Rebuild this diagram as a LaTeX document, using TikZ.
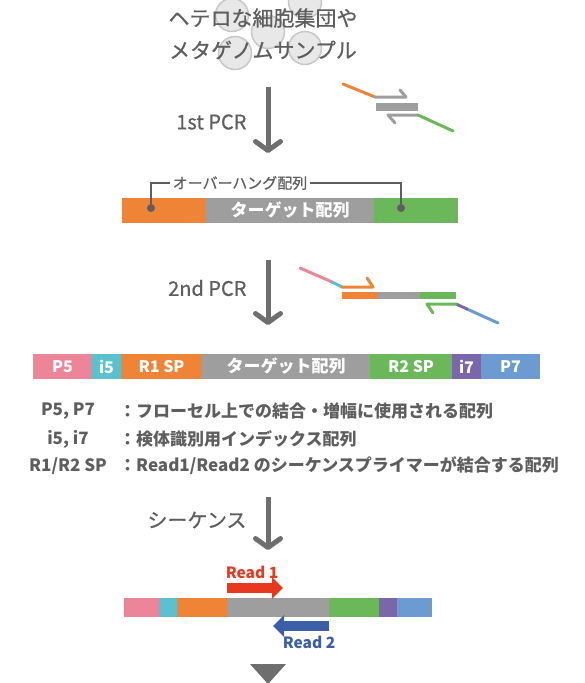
\documentclass[tikz,border=0pt]{standalone}
\usepackage{fontspec}
\setmainfont{Noto Sans CJK JP}
\newfontfamily\medfont[FakeBold=0.7]{Noto Sans CJK JP}
\usepackage{xcolor}
\usepackage{tikz}
\usetikzlibrary{positioning, arrows.meta}

\definecolor{p5col}{HTML}{ED8598}
\definecolor{i5col}{HTML}{5BC1CF}
\definecolor{r1col}{HTML}{F08436}
\definecolor{tgtcol}{HTML}{9D9E9D}
\definecolor{r2col}{HTML}{6BB85A}
\definecolor{i7col}{HTML}{7A66AA}
\definecolor{p7col}{HTML}{6C9BD2}
\definecolor{readred}{HTML}{E8391F}
\definecolor{readblue}{HTML}{3C5EA8}
\definecolor{flowgray}{HTML}{6E6E6E}
\definecolor{txtgray}{HTML}{5E5E5E}

\begin{document}
\begin{tikzpicture}[x=1pt, y=-1pt,
    seg/.style={fill=#1, inner sep=0pt, outer sep=0pt, text=white, font=\bfseries\fontsize{16}{16}\selectfont},
    bigseg/.style={seg=#1, minimum height=25pt},
    smallseg/.style={seg=#1, minimum height=19pt},
    flow/.style={draw=flowgray, line width=5pt, -{Straight Barb[length=9pt, width=25pt, line cap=round, line join=round]}},
    flowlabel/.style={anchor=east, text=txtgray, font=\medfont\fontsize{20}{20}\selectfont},
    primer/.style={draw=#1, line width=3pt, line cap=round, line join=round},
    cell/.style={draw=black!22, fill=black!9, line width=1.5pt},
    keylabel/.style={text=txtgray, font=\bfseries\fontsize{17}{17}\selectfont, inner sep=0pt},
    readarrow/.style={draw=#1, line width=10.5pt, -{Triangle[length=11pt, width=21pt]}}]
    \useasboundingbox (0,0) rectangle (585,683);

    % Cellules + titre
    \foreach \cx/\cy in {232/15, 268/32, 305/2, 235/53, 305/48}
        \draw[cell] (\cx,\cy) circle (16.5);
    \node[text=txtgray, font=\medfont\fontsize{21}{21}\selectfont, align=center] (titre1) at (263,18) {ヘテロな細胞集団や};
    \node[text=txtgray, font=\medfont\fontsize{21}{21}\selectfont, align=center] (titre2) at (263,50) {メタゲノムサンプル};

    % 1st PCR
    \coordinate (f1a) at (268,87);
    \coordinate (f1b) at (268,153);
    \draw[flow] (f1a) -- (f1b);
    \node[flowlabel] (pcr1) at (250,122) {1st PCR};

    \coordinate (a1) at (343,84);
    \coordinate (a2) at (375,97);
    \coordinate (a3) at (406,97);
    \coordinate (a4) at (400,90);
    \coordinate (b1) at (418,115);
    \coordinate (b2) at (388,115);
    \coordinate (b3) at (395,123);
    \coordinate (b4) at (453,131);
    \draw[primer=r1col] (a1) -- (a2);
    \draw[primer=tgtcol] (a2) -- (a3) -- (a4);
    \draw[tgtcol, line width=8pt] (376,107) -- (418,107);
    \draw[primer=tgtcol] (b1) -- (b2) -- (b3);
    \draw[primer=r2col] (b1) -- (b4);

    % Amplicon avec overhang
    \node[bigseg=r1col, minimum width=84pt, anchor=north west] (ov1) at (122,198) {};
    \node[bigseg=tgtcol, minimum width=168pt, right=0pt of ov1, font=\bfseries\fontsize{17}{17}\selectfont] (tg1) {ターゲット配列};
    \node[bigseg=r2col, minimum width=84pt, right=0pt of tg1] (ov2) {};
    \node[fill=txtgray, circle, inner sep=0pt, minimum size=8pt] (d1) at (151,208) {};
    \node[fill=txtgray, circle, inner sep=0pt, minimum size=8pt] (d2) at (401,208) {};
    \node[text=txtgray, font=\medfont\fontsize{15}{15}\selectfont, inner sep=2.5pt] (ovh) at (240,183) {オーバーハング配列};
    \draw[txtgray, line width=1.2pt] (d1) |- (ovh.west);
    \draw[txtgray, line width=1.2pt] (d2) |- (ovh.east);

    % 2nd PCR
    \coordinate (f2a) at (268,260);
    \coordinate (f2b) at (268,325);
    \draw[flow] (f2a) -- (f2b);
    \node[flowlabel] (pcr2) at (250,288) {2nd PCR};

    \coordinate (c1) at (300,268);
    \coordinate (c2) at (332,282);
    \coordinate (c3) at (342,287);
    \coordinate (c4) at (373,287);
    \coordinate (c5) at (367,278);
    \draw[primer=p5col] (c1) -- (c2);
    \draw[primer=i5col] (c2) -- (c3);
    \draw[primer=r1col] (c3) -- (c4) -- (c5);
    \draw[r1col, line width=7pt] (342,295) -- (378,295);
    \draw[tgtcol, line width=7pt] (378,295) -- (420,295);
    \draw[r2col, line width=7pt] (420,295) -- (456,295);
    \coordinate (e1) at (456,304);
    \coordinate (e2) at (427,304);
    \coordinate (e3) at (433,313);
    \coordinate (e4) at (467,309);
    \coordinate (e5) at (498,323);
    \draw[primer=p7col] (e4) -- (e5);
    \draw[primer=i7col] (e1) -- (e4);
    \draw[primer=r2col] (e1) -- (e2) -- (e3);

    % Librairie complete
    \node[bigseg=p5col, minimum width=59pt, anchor=north west] (p5) at (33,354) {P5};
    \node[bigseg=i5col, minimum width=29pt, right=0pt of p5] (i5) {i5};
    \node[bigseg=r1col, minimum width=81pt, right=0pt of i5] (r1) {R1 SP};
    \node[bigseg=tgtcol, minimum width=168pt, right=0pt of r1, font=\bfseries\fontsize{17}{17}\selectfont] (tg2) {ターゲット配列};
    \node[bigseg=r2col, minimum width=82pt, right=0pt of tg2] (r2) {R2 SP};
    \node[bigseg=i7col, minimum width=29pt, right=0pt of r2] (i7) {i7};
    \node[bigseg=p7col, minimum width=59pt, right=0pt of i7] (p7) {P7};

    % Legende
    \node[keylabel] (k1) at (68,411) {P5, P7};
    \node[keylabel] (k2) at (68,439) {i5, i7};
    \node[keylabel] (k3) at (68,466) {R1/R2 SP};
    \node[keylabel, anchor=west] (t1) at (119,411) {：フローセル上での結合・増幅に使用される配列};
    \node[keylabel, anchor=west] (t2) at (119,439) {：検体識別用インデックス配列};
    \node[keylabel, anchor=west] (t3) at (119,466) {：Read1/Read2 のシーケンスプライマーが結合する配列};

    % Sequence
    \coordinate (f3a) at (268,497);
    \coordinate (f3b) at (268,550);
    \draw[flow] (f3a) -- (f3b);
    \node[flowlabel] (seq) at (250,520) {シーケンス};

    \node[smallseg=p5col, minimum width=35pt, anchor=north west] (s1) at (124,598) {};
    \node[smallseg=i5col, minimum width=18pt, right=0pt of s1] (s2) {};
    \node[smallseg=r1col, minimum width=50pt, right=0pt of s2] (s3) {};
    \node[smallseg=tgtcol, minimum width=102pt, right=0pt of s3] (s4) {};
    \node[smallseg=r2col, minimum width=50pt, right=0pt of s4] (s5) {};
    \node[smallseg=i7col, minimum width=18pt, right=0pt of s5] (s6) {};
    \node[smallseg=p7col, minimum width=35pt, right=0pt of s6] (s7) {};

    \coordinate (r1a) at (227,588);
    \coordinate (r1b) at (283,588);
    \coordinate (r2a) at (329,626);
    \coordinate (r2b) at (273,626);
    \draw[readarrow=readred] (r1a) -- (r1b);
    \draw[readarrow=readblue] (r2a) -- (r2b);
    \node[text=readred, font=\bfseries\fontsize{15.5}{15.5}\selectfont] (read1) at (252,572) {Read 1};
    \node[text=readblue, font=\bfseries\fontsize{15.5}{15.5}\selectfont] (read2) at (309,642) {Read 2};

    % Suite
    \fill[flowgray] (250,664) -- (286,664) -- (268,684) -- cycle;
\end{tikzpicture}
\end{document}
